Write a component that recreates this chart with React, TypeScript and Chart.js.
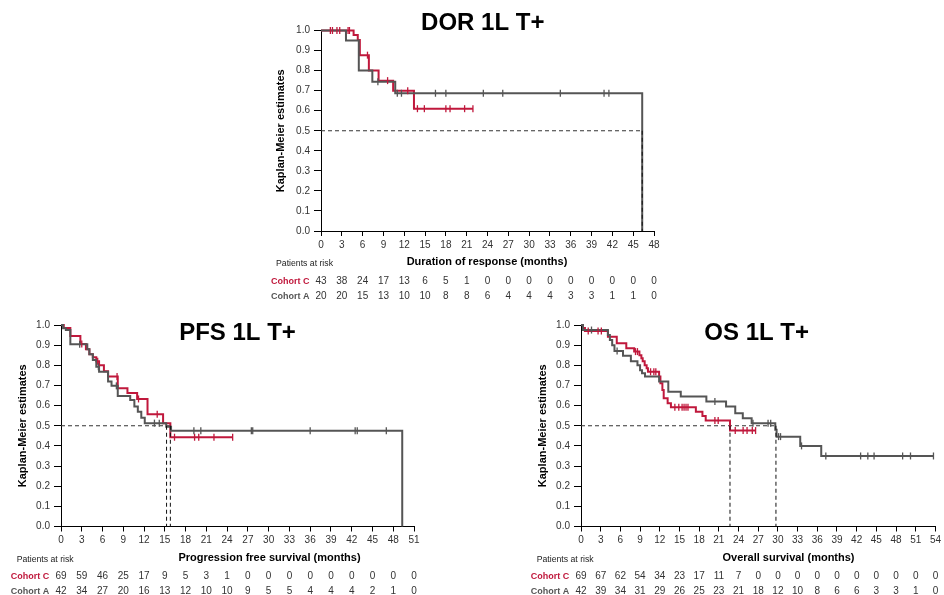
import React, { useEffect, useRef } from 'react';
import { Chart, registerables } from 'chart.js';
Chart.register(...registerables);

const RED = '#c0183c';
const GRAY = '#555555';
const FONT = '"Liberation Sans", Arial, sans-serif';
const NARROW = '"Liberation Sans Narrow", "Liberation Sans", Arial, sans-serif';

const Y_TICKS = [0, 0.1, 0.2, 0.3, 0.4, 0.5, 0.6, 0.7, 0.8, 0.9, 1.0];
const Y_LABEL = 'Kaplan-Meier estimates';
const COHORT_C = 'Cohort C';
const COHORT_A = 'Cohort A';
const AT_RISK = 'Patients at risk';

// ---------- DOR 1L T+ ----------
const dorXTicks = [0, 3, 6, 9, 12, 15, 18, 21, 24, 27, 30, 33, 36, 39, 42, 45, 48];
const dorRiskC = [43, 38, 24, 17, 13, 6, 5, 1, 0, 0, 0, 0, 0, 0, 0, 0, 0];
const dorRiskA = [20, 20, 15, 13, 10, 10, 8, 8, 6, 4, 4, 4, 3, 3, 1, 1, 0];
const dorCTimes = [0, 4.7, 5.3, 5.6, 6.9, 8.3, 10.4, 13.4, 21.9];
const dorCSurv = [1, 0.977, 0.953, 0.877, 0.8, 0.75, 0.7, 0.61, 0.61];
const dorCCensor = [1.35, 1.65, 2.3, 2.7, 3.9, 4.1, 6.7, 9.6, 12.5, 13.9, 14.9, 18.0, 18.6, 20.7, 21.9];
const dorATimes = [0, 3.6, 5.45, 7.4, 10.7, 46.3];
const dorASurv = [1, 0.95, 0.8, 0.745, 0.687, 0];
const dorACensor = [8.2, 11.0, 11.6, 16.5, 18.0, 23.4, 26.2, 34.5, 40.8, 41.5];
const dorMedians = [46.3];

// ---------- PFS 1L T+ ----------
const pfsXTicks = [0, 3, 6, 9, 12, 15, 18, 21, 24, 27, 30, 33, 36, 39, 42, 45, 48, 51];
const pfsRiskC = [69, 59, 46, 25, 17, 9, 5, 3, 1, 0, 0, 0, 0, 0, 0, 0, 0, 0];
const pfsRiskA = [42, 34, 27, 20, 16, 13, 12, 10, 10, 9, 5, 5, 4, 4, 4, 2, 1, 0];
const pfsCTimes = [0, 0.4, 1.35, 2.8, 3.6, 4.1, 4.6, 5.1, 5.5, 6.2, 6.8, 8.2, 9.6, 11.0, 12.5, 14.75, 15.8, 24.8];
const pfsCSurv = [1, 0.985, 0.945, 0.906, 0.88, 0.855, 0.84, 0.82, 0.8, 0.77, 0.744, 0.686, 0.662, 0.633, 0.557, 0.513, 0.443, 0.443];
const pfsCCensor = [3.0, 5.3, 8.1, 11.2, 13.9, 16.4, 19.3, 19.9, 22.1, 24.8];
const pfsATimes = [0, 0.3, 0.7, 1.35, 3.8, 4.1, 4.6, 5.1, 5.5, 6.8, 7.3, 8.2, 10.0, 10.6, 11.1, 11.6, 12.1, 15.2, 15.9, 49.3];
const pfsASurv = [1, 0.984, 0.975, 0.904, 0.88, 0.855, 0.826, 0.793, 0.768, 0.719, 0.698, 0.648, 0.628, 0.595, 0.57, 0.54, 0.513, 0.495, 0.475, 0];
const pfsACensor = [2.7, 5.4, 8.0, 13.5, 14.2, 19.2, 20.2, 27.5, 27.7, 36.0, 42.5, 42.8, 47.0];
const pfsMedians = [15.25, 15.8];

// ---------- OS 1L T+ ----------
const osXTicks = [0, 3, 6, 9, 12, 15, 18, 21, 24, 27, 30, 33, 36, 39, 42, 45, 48, 51, 54];
const osRiskC = [69, 67, 62, 54, 34, 23, 17, 11, 7, 0, 0, 0, 0, 0, 0, 0, 0, 0, 0];
const osRiskA = [42, 39, 34, 31, 29, 26, 25, 23, 21, 18, 12, 10, 8, 6, 6, 3, 3, 1, 0];
const osCTimes = [0, 0.3, 0.6, 4.1, 5.45, 6.9, 8.1, 8.9, 9.2, 9.4, 9.7, 10.0, 10.2, 11.9, 12.1, 12.4, 12.6, 13.2, 13.7, 17.5, 18.5, 19.0, 22.7, 26.6];
const osCSurv = [1, 0.985, 0.97, 0.942, 0.909, 0.884, 0.868, 0.85, 0.835, 0.82, 0.8, 0.785, 0.768, 0.744, 0.711, 0.678, 0.637, 0.612, 0.592, 0.57, 0.549, 0.526, 0.476, 0.476];
const osCCensor = [1.1, 2.6, 3.1, 8.3, 8.6, 10.6, 11.1, 11.4, 14.3, 14.9, 15.4, 15.7, 16.0, 16.3, 20.4, 20.9, 23.5, 24.7, 25.3, 26.1, 26.6];
const osATimes = [0, 0.3, 4.1, 4.4, 4.75, 5.1, 6.4, 7.6, 8.6, 9.0, 9.3, 9.75, 11.9, 13.3, 15.2, 19.1, 22.1, 23.5, 24.65, 26.0, 29.6, 29.8, 33.4, 36.6, 53.7];
const osASurv = [1, 0.975, 0.95, 0.925, 0.9, 0.871, 0.848, 0.82, 0.8, 0.775, 0.76, 0.744, 0.719, 0.669, 0.645, 0.62, 0.595, 0.562, 0.537, 0.513, 0.48, 0.446, 0.4, 0.35, 0.35];
const osACensor = [1.6, 5.5, 20.4, 26.2, 28.5, 28.9, 30.1, 30.4, 33.6, 37.3, 42.6, 43.7, 44.65, 49.0, 50.2, 53.7];
const osMedians = [22.7, 29.7];

type PanelData = {
  xTicks: number[]; riskC: number[]; riskA: number[];
  cTimes: number[]; cSurv: number[]; cCensor: number[];
  aTimes: number[]; aSurv: number[]; aCensor: number[];
  medians: number[];
};

const DATA: Record<string, PanelData> = {
  dor: { xTicks: dorXTicks, riskC: dorRiskC, riskA: dorRiskA, cTimes: dorCTimes, cSurv: dorCSurv, cCensor: dorCCensor, aTimes: dorATimes, aSurv: dorASurv, aCensor: dorACensor, medians: dorMedians },
  pfs: { xTicks: pfsXTicks, riskC: pfsRiskC, riskA: pfsRiskA, cTimes: pfsCTimes, cSurv: pfsCSurv, cCensor: pfsCCensor, aTimes: pfsATimes, aSurv: pfsASurv, aCensor: pfsACensor, medians: pfsMedians },
  os: { xTicks: osXTicks, riskC: osRiskC, riskA: osRiskA, cTimes: osCTimes, cSurv: osCSurv, cCensor: osCCensor, aTimes: osATimes, aSurv: osASurv, aCensor: osACensor, medians: osMedians },
};

// layout (canvas-local coordinates)
const PANELS = [
  { key: 'dor', title: 'DOR 1L T+', xTitle: 'Duration of response (months)', left: 260, top: 0, w: 420, h: 305,
    padTop: 30.5, padRight: 26, padBottom: 54, titleX: 222.8, titleY: 30, xTitleX: 227, xTitleY: 265,
    yTitleX: 21, riskLeft: 16, cohortRight: 49.5, patientsY: 265.5, rowCY: 283.5, rowAY: 298.5 },
  { key: 'pfs', title: 'PFS 1L T+', xTitle: 'Progression free survival (months)', left: 0, top: 305, w: 440, h: 290,
    padTop: 20, padRight: 26, padBottom: 48.5, titleX: 237.5, titleY: 35, xTitleX: 269.5, xTitleY: 256,
    yTitleX: 22.5, riskLeft: 16.7, cohortRight: 49.3, patientsY: 256.5, rowCY: 274, rowAY: 289 },
  { key: 'os', title: 'OS 1L T+', xTitle: 'Overall survival (months)', left: 520, top: 305, w: 424, h: 290,
    padTop: 20, padRight: 6.5, padBottom: 48.5, titleX: 236.7, titleY: 35, xTitleX: 268.5, xTitleY: 256,
    yTitleX: 22.5, riskLeft: 16.7, cohortRight: 49.3, patientsY: 256.5, rowCY: 274, rowAY: 289 },
];

function survAt(times: number[], surv: number[], t: number) {
  let s = surv[0];
  for (let i = 0; i < times.length; i++) if (times[i] <= t) s = surv[i];
  return s;
}

function buildDatasets(d: PanelData) {
  const ds: any[] = [];
  const stepLine = (times: number[], surv: number[], color: string, order: number) => ({
    data: times.map((t, i) => ({ x: t, y: surv[i] })),
    borderColor: color, borderWidth: 2, stepped: true, pointRadius: 0, fill: false,
    clip: false, order,
  });
  const censors = (c: number[], times: number[], surv: number[], color: string, order: number) => ({
    data: c.map((t) => ({ x: t, y: survAt(times, surv, t) })),
    showLine: false, pointStyle: 'line', rotation: 90, pointRadius: 3.5,
    borderColor: color, pointBorderColor: color, pointBorderWidth: 1.3, clip: false, order,
  });
  const maxMed = Math.max(...d.medians);
  ds.push({ data: [{ x: 0, y: 0.5 }, { x: maxMed, y: 0.5 }], borderColor: '#333', borderWidth: 1, borderDash: [4, 3], pointRadius: 0, clip: false, order: 10 });
  d.medians.forEach((m) => {
    ds.push({ data: [{ x: m, y: 0.5 }, { x: m, y: 0 }], borderColor: '#111', borderWidth: 1, borderDash: [4, 3], pointRadius: 0, clip: false, order: 1 });
  });
  ds.push(stepLine(d.cTimes, d.cSurv, RED, 8));
  ds.push(stepLine(d.aTimes, d.aSurv, GRAY, 7));
  ds.push(censors(d.cCensor, d.cTimes, d.cSurv, RED, 5));
  ds.push(censors(d.aCensor, d.aTimes, d.aSurv, GRAY, 4));
  return ds;
}

function textPlugin(p: any, d: PanelData) {
  return {
    id: 'kmText_' + p.key,
    afterDraw(chart: any) {
      const ctx = chart.ctx as CanvasRenderingContext2D;
      const area = chart.chartArea;
      const xs = chart.scales.x;
      ctx.save();
      ctx.textBaseline = 'alphabetic';
      ctx.fillStyle = '#000';
      ctx.textAlign = 'center';
      ctx.font = `bold 24px ${FONT}`;
      ctx.fillText(p.title, p.titleX, p.titleY);
      ctx.font = `bold 11px ${FONT}`;
      ctx.fillText(p.xTitle, p.xTitleX, p.xTitleY);
      ctx.save();
      ctx.translate(p.yTitleX, (area.top + area.bottom) / 2);
      ctx.rotate(-Math.PI / 2);
      ctx.textBaseline = 'middle';
      ctx.fillText(Y_LABEL, 0, 0);
      ctx.restore();
      ctx.textAlign = 'left';
      ctx.fillStyle = '#222';
      ctx.font = `8.7px ${FONT}`;
      ctx.fillText(AT_RISK, p.riskLeft, p.patientsY);
      ctx.textAlign = 'right';
      ctx.font = `bold 9px ${FONT}`;
      ctx.fillStyle = RED;
      ctx.fillText(COHORT_C, p.cohortRight, p.rowCY);
      ctx.fillStyle = GRAY;
      ctx.fillText(COHORT_A, p.cohortRight, p.rowAY);
      ctx.textAlign = 'center';
      ctx.fillStyle = '#333';
      ctx.font = `10px ${NARROW}`;
      d.xTicks.forEach((t, i) => {
        const x = xs.getPixelForValue(t);
        ctx.fillText(String(d.riskC[i]), x, p.rowCY);
        ctx.fillText(String(d.riskA[i]), x, p.rowAY);
      });
      ctx.restore();
    },
  };
}

function KMPanel({ p }: { p: any }) {
  const ref = useRef<HTMLCanvasElement>(null);
  useEffect(() => {
    const d = DATA[p.key];
    const tickFont = { family: NARROW, size: 10 };
    const chart = new Chart(ref.current as HTMLCanvasElement, {
      type: 'line',
      data: { datasets: buildDatasets(d) },
      options: {
        animation: false,
        responsive: false,
        events: [],
        layout: { padding: { left: 0, top: p.padTop, right: p.padRight, bottom: p.padBottom } },
        plugins: { legend: { display: false }, tooltip: { enabled: false }, title: { display: false } },
        scales: {
          x: {
            type: 'linear', min: 0, max: d.xTicks[d.xTicks.length - 1],
            afterBuildTicks: (s: any) => { s.ticks = d.xTicks.map((v) => ({ value: v })); },
            afterFit: (s: any) => { s.height = 20; },
            ticks: { font: tickFont, color: '#333', padding: 3, autoSkip: false, maxRotation: 0, callback: (v: any) => String(v) },
            grid: { drawOnChartArea: false, tickLength: 5, color: '#000', tickColor: '#000', tickWidth: 1 },
            border: { color: '#000', width: 1 },
          },
          y: {
            type: 'linear', min: 0, max: 1,
            afterBuildTicks: (s: any) => { s.ticks = Y_TICKS.map((v) => ({ value: v })); },
            afterFit: (s: any) => { s.width = 61; },
            ticks: { font: tickFont, color: '#333', padding: 4, callback: (v: any) => Number(v).toFixed(1) },
            grid: { drawOnChartArea: false, tickLength: 7, color: '#000', tickColor: '#000', tickWidth: 1 },
            border: { color: '#000', width: 1 },
          },
        },
      } as any,
      plugins: [textPlugin(p, d)],
    });
    return () => chart.destroy();
  }, []);
  return (
    <canvas
      ref={ref}
      width={p.w}
      height={p.h}
      style={{ position: 'absolute', left: p.left, top: p.top, width: p.w, height: p.h }}
    />
  );
}

export default function App() {
  return (
    <div style={{ position: 'absolute', left: 0, top: 0, width: 944, height: 595, background: '#fff', overflow: 'hidden' }}>
      {PANELS.map((p) => <KMPanel key={p.key} p={p} />)}
    </div>
  );
}
